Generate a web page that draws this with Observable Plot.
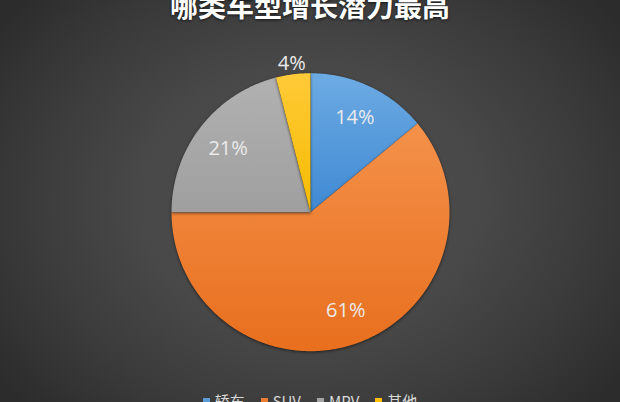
<!DOCTYPE html>
<html><head><meta charset="utf-8">
<script src="https://cdn.jsdelivr.net/npm/d3@7"></script>
<script src="https://cdn.jsdelivr.net/npm/@observablehq/plot@0.6"></script>
<style>
html,body{margin:0;padding:0;background:#2e2e2e;}
#wrap{position:relative;width:620px;height:402px;overflow:hidden;
  background:radial-gradient(ellipse 62% 75% at 50% 50%, #4f4f4f 0%, #484848 45%, #3a3a3a 75%, #2c2c2c 100%);}
#title{position:absolute;left:0;top:-9px;width:620px;text-align:center;font-family:"Noto Sans CJK SC",sans-serif;font-weight:bold;font-size:28px;line-height:28px;color:#fff;text-shadow:0 1px 3px rgba(0,0,0,0.7);white-space:nowrap;}
#chart{position:absolute;left:0;top:0;}
#chart svg g[aria-label="line"]{filter:drop-shadow(0 1px 1.5px rgba(0,0,0,0.55));}
#legend{position:absolute;left:0;top:391px;width:620px;display:flex;justify-content:center;font-family:"Noto Sans CJK SC",sans-serif;font-size:15px;line-height:20px;color:#d9d9d9;}
#legend .item{display:flex;align-items:center;margin:0 8px;}
#legend .sw{width:7px;height:7px;margin-right:5px;}
</style></head>
<body><div id="wrap"><div id="chart"></div><div id="title"></div><div id="legend"></div></div>
<script>
const titleText = "哪类车型增长潜力最高";
const categories = ["轿车", "SUV", "MPV", "其他"];
const shares = [14, 61, 21, 4];
const labels = ["14%", "61%", "21%", "4%"];

const gradTop = ["#6dabe3", "#f4914a", "#b1b1b1", "#ffca38"];
const gradBottom = ["#3f89d3", "#e86f1e", "#9f9f9f", "#f5bb00"];
const solid = ["#5b9bd5", "#ed7d31", "#a5a5a5", "#ffc000"];

const W = 620, H = 402, R = 139, cx = 310, cy = 211.7;

document.getElementById("title").textContent = titleText;

const total = d3.sum(shares);
let acc = 0;
const slices = shares.map((v, i) => {
  const a0 = acc / total * 2 * Math.PI; acc += v;
  const a1 = acc / total * 2 * Math.PI;
  return {i, cat: categories[i], v, a0, a1, mid: (a0 + a1) / 2, label: labels[i]};
});

function slicePoints(s) {
  const pts = [{x: 0, y: 0}];
  const n = Math.max(2, Math.ceil((s.a1 - s.a0) / (Math.PI / 360)));
  for (let k = 0; k <= n; k++) {
    const a = s.a0 + (s.a1 - s.a0) * k / n;
    pts.push({x: R * Math.sin(a), y: R * Math.cos(a)});
  }
  pts.push({x: 0, y: 0});
  return pts;
}

const labelData = slices.map(s => {
  const rl = s.v >= 5 ? 0.75 * R : R + 11;
  return {x: rl * Math.sin(s.mid), y: rl * Math.cos(s.mid), label: s.label};
});

function defs() {
  const ns = "http://www.w3.org/2000/svg";
  const d = document.createElementNS(ns, "defs");
  slices.forEach(s => {
    const g = document.createElementNS(ns, "linearGradient");
    g.setAttribute("id", "g" + s.i);
    g.setAttribute("x1", "0"); g.setAttribute("y1", "0");
    g.setAttribute("x2", "0"); g.setAttribute("y2", "1");
    [[0, gradTop[s.i]], [1, gradBottom[s.i]]].forEach(([o, c]) => {
      const st = document.createElementNS(ns, "stop");
      st.setAttribute("offset", o); st.setAttribute("stop-color", c);
      g.appendChild(st);
    });
    d.appendChild(g);
  });
  return d;
}

const chart = Plot.plot({
  width: W, height: H,
  margin: 0,
  style: {background: "transparent", overflow: "visible"},
  x: {domain: [-cx, W - cx], axis: null},
  y: {domain: [cy - H, cy], axis: null},
  marks: [
    defs,
    ...slices.map(s => Plot.line(slicePoints(s), {x: "x", y: "y", fill: `url(#g${s.i})`, stroke: "none", curve: "linear"})),
    Plot.text(labelData, {x: "x", y: "y", text: "label", fill: "#eaeaea", fontSize: 20, fontFamily: "Open Sans"})
  ]
});
document.getElementById("chart").appendChild(chart);

const leg = document.getElementById("legend");
categories.forEach((c, i) => {
  const it = document.createElement("div"); it.className = "item";
  const sw = document.createElement("div"); sw.className = "sw"; sw.style.background = solid[i];
  const tx = document.createElement("span"); tx.textContent = c;
  it.appendChild(sw); it.appendChild(tx); leg.appendChild(it);
});
</script></body></html>
